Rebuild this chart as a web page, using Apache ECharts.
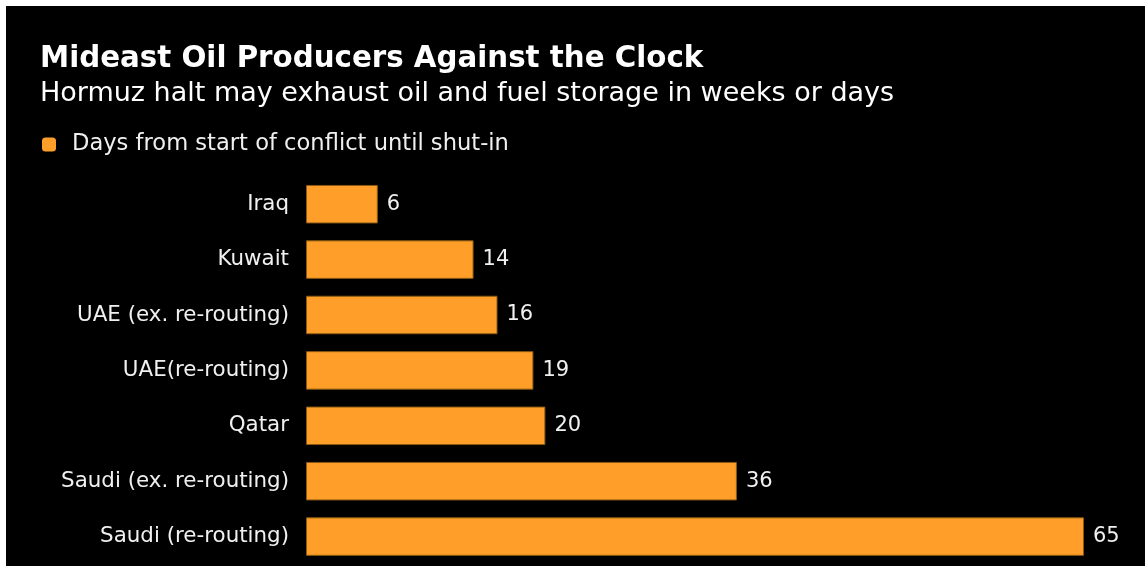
<!DOCTYPE html>
<html>
<head>
<meta charset="utf-8">
<script src="https://cdn.jsdelivr.net/npm/echarts@6/dist/echarts.min.js"></script>
<style>
  html, body { margin: 0; padding: 0; background: #fff; }
  #main { position: absolute; left: 6px; top: 6px; width: 1139px; height: 560px; background: #000; }
</style>
</head>
<body>
<div id="main"></div>
<script>
// categories top to bottom
const countries = ['Iraq', 'Kuwait', 'UAE (ex. re-routing)', 'UAE(re-routing)', 'Qatar', 'Saudi (ex. re-routing)', 'Saudi (re-routing)']
// days from start of conflict until shut-in
const days = [6, 14, 16, 19, 20, 36, 65]
const seriesName = 'Days from start of conflict until shut-in'

const font = 'DejaVu Sans'
const chart = echarts.init(document.getElementById('main'))

const option = {
  backgroundColor: '#000',
  animation: false,
  title: [
    {
      text: 'Mideast Oil Producers Against the Clock',
      left: 34,
      top: 39,
      padding: 0,
      textStyle: { color: '#fff', fontFamily: font, fontWeight: 'bold', fontSize: 29.3 }
    },
    {
      text: 'Hormuz halt may exhaust oil and fuel storage in weeks or days',
      left: 34,
      top: 74,
      padding: 0,
      textStyle: { color: '#fff', fontFamily: font, fontWeight: 'normal', fontSize: 27 }
    }
  ],
  legend: {
    left: 36,
    top: 127,
    padding: 0,
    icon: 'roundRect',
    itemWidth: 14,
    itemHeight: 14,
    itemStyle: { borderWidth: 0 },
    textStyle: { color: '#f0f0f0', fontFamily: font, fontSize: 22.6, padding: [0, 0, 0, 11] },
    data: [seriesName]
  },
  grid: {
    left: 300,
    right: 61,
    top: 170.5,
    bottom: 1.7
  },
  xAxis: {
    type: 'value',
    min: 0,
    max: 65,
    show: false
  },
  yAxis: {
    type: 'category',
    inverse: true,
    data: countries,
    axisLine: { show: false },
    axisTick: { show: false },
    axisLabel: { color: '#f0f0f0', fontFamily: font, fontSize: 21.4, margin: 17 }
  },
  series: [
    {
      name: seriesName,
      type: 'bar',
      data: days,
      barWidth: '69.5%',
      itemStyle: { color: '#ff9f29', borderColor: '#8a5a14', borderWidth: 1 },
      label: {
        show: true,
        position: 'right',
        distance: 9,
        color: '#f0f0f0',
        fontFamily: font,
        fontSize: 21
      }
    }
  ]
}
chart.setOption(option)
</script>
</body>
</html>
